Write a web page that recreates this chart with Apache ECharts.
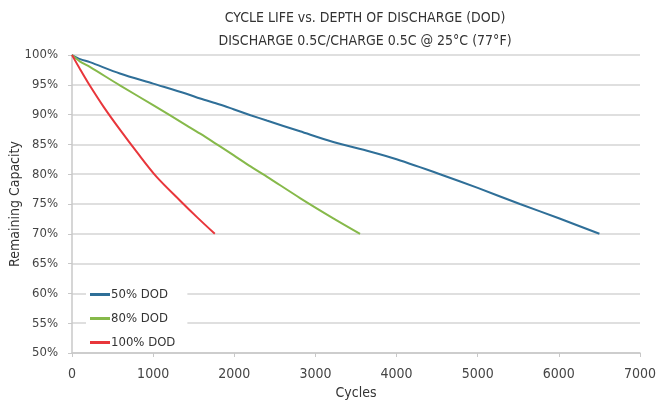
<!DOCTYPE html>
<html><head><meta charset="utf-8">
<script src="https://cdn.jsdelivr.net/npm/echarts@6/dist/echarts.min.js"></script>
<style>html,body{margin:0;padding:0;background:#fff}#c{width:656px;height:403px}</style>
</head><body><div id="c"></div>
<script>
const seriesNames = ['50% DOD', '80% DOD', '100% DOD'];
const dod50 = [[0,100],[100,99.3],[220,98.8],[590,96.9],[1000,95.2],[1410,93.5],[1580,92.7],[1820,91.7],[1990,90.9],[2200,89.9],[2400,89.0],[2810,87.2],[3220,85.4],[3670,83.8],[4000,82.5],[4535,80.0],[5000,77.7],[5520,75.0],[6000,72.6],[6500,70]];
const dod80 = [[0,100],[100,98.9],[220,98.0],[590,94.9],[1000,91.6],[1410,88.2],[1580,86.8],[1820,84.7],[1990,83.2],[2200,81.3],[2400,79.6],[2810,76.0],[3220,72.6],[3550,70]];
const dod100 = [[0,100],[100,97.6],[200,95.3],[390,91.3],[600,87.3],[800,83.7],[1040,79.6],[1330,75.6],[1540,72.8],[1760,70]];
const titleText = 'CYCLE LIFE vs. DEPTH OF DISCHARGE (DOD)\nDISCHARGE 0.5C/CHARGE 0.5C @ 25°C (77°F)';
const FONT = "'Liberation Sans Narrow', 'DejaVu Sans Condensed', 'Noto Sans', sans-serif";
const colors = ['#2f6f98', '#86b94a', '#e8363b'];
const chart = echarts.init(document.getElementById('c'));
chart.setOption({
  animation: false,
  color: colors,
  title: {
    text: titleText, left: 360, top: 2, textAlign: 'center',
    textStyle: {fontFamily: FONT, fontSize: 14, fontWeight: 'normal', color: '#333', lineHeight: 23}
  },
  legend: {
    orient: 'vertical', left: 86, top: 286, itemGap: 11, itemWidth: 20, itemHeight: 3,
    icon: 'rect', backgroundColor: '#fff', padding: [2, 12, 0, 4],
    textStyle: {fontFamily: FONT, fontSize: 13, color: '#333', padding: [0, 0, 0, -4]},
    data: seriesNames
  },
  grid: {left: 72, right: 16, top: 55, bottom: 50, outerBoundsMode: 'none', containLabel: false},
  xAxis: {
    type: 'value', min: 0, max: 7000, interval: 1000,
    name: 'Cycles', nameLocation: 'middle', nameGap: 29,
    nameTextStyle: {fontFamily: FONT, fontSize: 14, color: '#333'},
    axisLine: {lineStyle: {color: '#c8c8c8', width: 1.5}},
    axisTick: {show: true, length: 4, lineStyle: {color: '#c8c8c8'}},
    axisLabel: {fontFamily: FONT, fontSize: 14, color: '#444', margin: 14, formatter: v => String(v)},
    splitLine: {show: false}
  },
  yAxis: {
    type: 'value', min: 50, max: 100, interval: 5,
    name: 'Remaining Capacity', nameLocation: 'middle', nameGap: 50, nameMoveOverlap: false,
    nameTextStyle: {fontFamily: FONT, fontSize: 14, color: '#333'},
    axisLine: {show: true, lineStyle: {color: '#c8c8c8', width: 1.5}},
    axisTick: {show: true, length: 4, lineStyle: {color: '#c8c8c8'}},
    axisLabel: {fontFamily: FONT, fontSize: 13, color: '#444', formatter: v => v + '%', margin: 14},
    splitLine: {lineStyle: {color: '#d4d4d4', width: 1.5}}
  },
  series: [
    {name: seriesNames[0], type: 'line', data: dod50, showSymbol: false, smooth: 0.3, lineStyle: {width: 2}},
    {name: seriesNames[1], type: 'line', data: dod80, showSymbol: false, smooth: 0.3, lineStyle: {width: 2}},
    {name: seriesNames[2], type: 'line', data: dod100, showSymbol: false, smooth: 0.3, lineStyle: {width: 2}}
  ]
});
</script></body></html>
